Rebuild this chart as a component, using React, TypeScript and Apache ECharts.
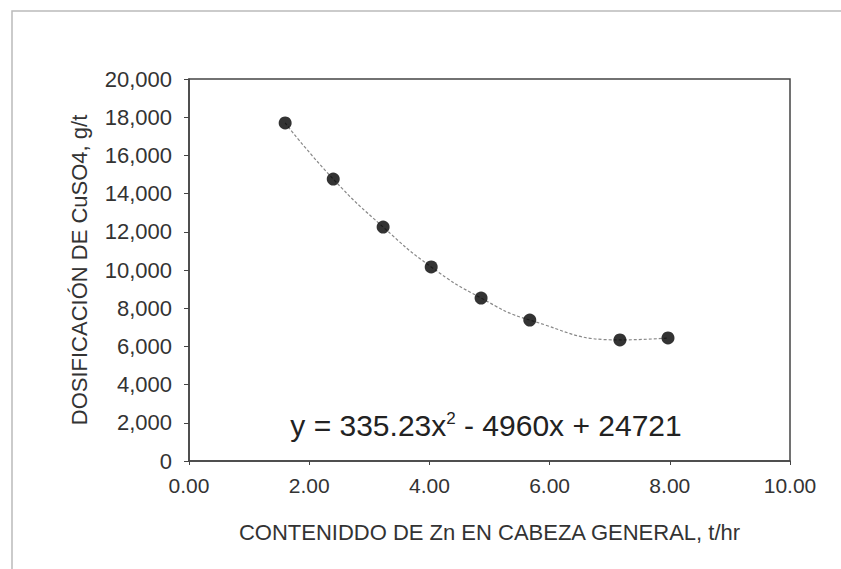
import React, { useEffect, useRef } from "react";
import * as echarts from "echarts";

const xValues = [1.6, 2.4, 3.23, 4.03, 4.86, 5.67, 7.17, 7.97];
const yValues = [17700, 14760, 12250, 10160, 8530, 7380, 6340, 6440];
const xTicks = ["0.00", "2.00", "4.00", "6.00", "8.00", "10.00"];
const yTicks = ["0", "2,000", "4,000", "6,000", "8,000", "10,000", "12,000", "14,000", "16,000", "18,000", "20,000"];
const xTitle = "CONTENIDDO DE Zn EN CABEZA GENERAL, t/hr";
const yTitle = "DOSIFICACIÓN DE CuSO4, g/t";

const FONT = "'Liberation Sans', Arial, sans-serif";

export default function App() {
  const ref = useRef<HTMLDivElement>(null);
  useEffect(() => {
    if (!ref.current) return;
    const chart = echarts.init(ref.current, null, { renderer: "svg" });
    const pts = xValues.map((x, i) => [x, yValues[i]]);
    chart.setOption({
      animation: false,
      backgroundColor: "#ffffff",
      textStyle: { fontFamily: FONT },
      grid: { left: 189, top: 79, right: 51, bottom: 108, show: true, borderColor: "#444", borderWidth: 1.5, backgroundColor: "transparent" },
      xAxis: {
        type: "value",
        min: 0,
        max: 10,
        interval: 2,
        name: xTitle,
        nameLocation: "middle",
        nameGap: 60,
        nameTextStyle: { fontFamily: FONT, fontSize: 22, color: "#333" },
        axisLine: { show: true, lineStyle: { color: "#444", width: 1.5 } },
        axisTick: { show: true, inside: false, length: 4, lineStyle: { color: "#444" } },
        axisLabel: { fontFamily: FONT, fontSize: 21, color: "#333", margin: 14, formatter: (v: number) => xTicks[Math.round(v / 2)] ?? "" },
        splitLine: { show: false },
      },
      yAxis: {
        type: "value",
        min: 0,
        max: 20000,
        interval: 2000,
        name: yTitle,
        nameLocation: "middle",
        nameGap: 99,
        nameTextStyle: { fontFamily: FONT, fontSize: 22, color: "#333" },
        axisLine: { show: true, lineStyle: { color: "#444", width: 1.5 } },
        axisTick: { show: true, inside: false, length: 5, lineStyle: { color: "#444" } },
        axisLabel: { fontFamily: FONT, fontSize: 22, color: "#333", margin: 17, formatter: (v: number) => yTicks[Math.round(v / 2000)] ?? "" },
        splitLine: { show: false },
      },
      series: [
        {
          type: "line",
          data: pts,
          smooth: 0.5,
          showSymbol: false,
          symbol: "none",
          lineStyle: { color: "#888", width: 1.2, type: [3, 2] },
          z: 2,
        },
        {
          type: "scatter",
          data: pts,
          symbol: "circle",
          symbolSize: 13,
          itemStyle: { color: "#000" },
          z: 3,
        },
      ],
      graphic: [
        {
          type: "rect",
          shape: { x: 12, y: 11, width: 900, height: 700 },
          style: { fill: "none", stroke: "#bbb", lineWidth: 1.5 },
          silent: true,
        },
        {
          type: "text",
          x: 486,
          y: 425,
          style: {
            text: "{a|y = 335.23x}{s|2}{a| - 4960x + 24721}",
            align: "center",
            verticalAlign: "middle",
            rich: {
              a: { fontFamily: FONT, fontSize: 30, fill: "#222", verticalAlign: "bottom" },
              s: { fontFamily: FONT, fontSize: 17, fill: "#222", verticalAlign: "top" },
            },
          },
        },
      ],
    });
    return () => chart.dispose();
  }, []);
  return <div ref={ref} style={{ position: "fixed", left: 0, top: 0, width: 841, height: 569 }} />;
}
